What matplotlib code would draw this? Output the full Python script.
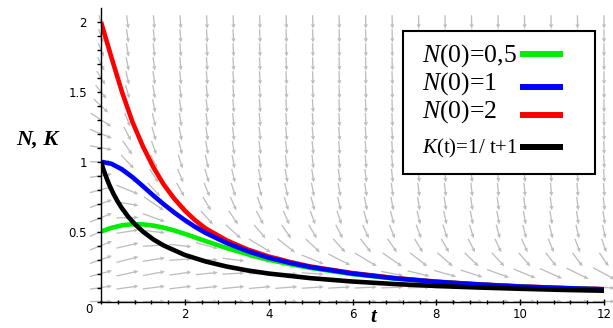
import numpy as np
import matplotlib
matplotlib.use("Agg")
import matplotlib.pyplot as plt
from matplotlib.patches import Rectangle
from matplotlib.lines import Line2D

plt.rcParams['mathtext.fontset'] = 'custom'
plt.rcParams['mathtext.it'] = 'Liberation Serif:italic'
plt.rcParams['mathtext.rm'] = 'Liberation Serif'

# ---- data ----
t_curves = [0, 0.25, 0.5, 0.75, 1.0, 1.25, 1.5, 1.75, 2.0, 2.25, 2.5, 3.0, 3.5, 4.0, 4.5, 5, 6, 7, 8, 9, 10, 11, 12]
n_red = [2.0, 1.745, 1.50, 1.285, 1.11, 0.96, 0.835, 0.735, 0.65, 0.58, 0.522, 0.437, 0.372, 0.322,
         0.283, 0.25, 0.203, 0.168, 0.142, 0.123, 0.108, 0.097, 0.088]
n_blue = [1.0, 0.985, 0.946, 0.89, 0.825, 0.758, 0.695, 0.636, 0.582, 0.533, 0.49, 0.418, 0.36, 0.313,
          0.277, 0.246, 0.200, 0.166, 0.141, 0.122, 0.107, 0.096, 0.087]
n_green = [0.5, 0.527, 0.545, 0.553, 0.552, 0.543, 0.528, 0.508, 0.484, 0.458, 0.432, 0.382, 0.338, 0.299,
           0.267, 0.240, 0.196, 0.164, 0.140, 0.121, 0.106, 0.095, 0.086]

t_black = [0, 0.05, 0.1, 0.15, 0.2, 0.3, 0.4, 0.5, 0.65, 0.8, 1.0, 1.25, 1.5, 2.0, 2.5, 3.0, 3.5, 4, 5, 6, 7, 8, 9, 10, 11, 12]
n_black = [1.0, 0.952, 0.909, 0.870, 0.833, 0.769, 0.714, 0.667, 0.606, 0.556, 0.5, 0.444, 0.4, 0.333,
           0.286, 0.25, 0.222, 0.2, 0.167, 0.143, 0.125, 0.111, 0.1, 0.091, 0.083, 0.077]

legend_labels = ["$N$(0)=0,5", "$N$(0)=1", "$N$(0)=2", "$K$(t)=1/ t+1"]
legend_colors = ["#00ee00", "#0000ff", "#ff0000", "#000000"]

x_ticks = [2, 4, 6, 8, 10, 12]
x_ticklabels = ["2", "4", "6", "8", "10", "12"]
y_ticks = [0.5, 1, 1.5, 2]
y_ticklabels = ["0.5", "1", "1.5", "2"]

growth_rate = 0.5  # model dN/dt = r N (1 - N/K), K = 1/(t+1)

# ---- figure ----
W, H = 613, 328
fig = plt.figure(figsize=(W / 100, H / 100), dpi=100)
ax_l, ax_r, ax_b, ax_t = 101, 604, 301.5, 8
ax = fig.add_axes([ax_l / W, (H - ax_b) / H, (ax_r - ax_l) / W, (ax_b - ax_t) / H])
xmax, ymax = 12, 2.1
ax.set_xlim(0, xmax)
ax.set_ylim(0, ymax)
px_t = (ax_r - ax_l) / xmax
px_n = (ax_b - ax_t) / ymax

# direction field
TT, NN = np.meshgrid(np.linspace(0, 12, 20), np.linspace(0, 2, 21))
slope = growth_rate * NN * (1 - NN * (1 + TT))
ux = np.ones_like(slope) * px_t
uy = slope * px_n
norm = np.hypot(ux, uy)
ux, uy = ux / norm, uy / norm
Lx, Ly = 22.0, 13.5
L = np.minimum(Lx / np.maximum(np.abs(ux), 1e-9), Ly / np.maximum(np.abs(uy), 1e-9))
U = ux * L / px_t
V = uy * L / px_n
q = ax.quiver(TT, NN, U, V, angles='xy', scale_units='xy', scale=1, pivot='middle',
              color='#bdbdbd', units='dots', width=1.3, headwidth=3.2, headlength=3.5,
              headaxislength=3.2, zorder=1)
q.set_clip_on(False)

lw = 3.3
ax.plot(t_curves, n_red, color=legend_colors[2], lw=lw, zorder=3, solid_capstyle='butt')
ax.plot(t_curves, n_green, color=legend_colors[0], lw=lw, zorder=3, solid_capstyle='butt')
ax.plot(t_curves, n_blue, color=legend_colors[1], lw=lw, zorder=3, solid_capstyle='butt')
ax.plot(t_black, n_black, color=legend_colors[3], lw=lw, zorder=3, solid_capstyle='butt')

# axes styling
for s in ['top', 'right']:
    ax.spines[s].set_visible(False)
for s in ['left', 'bottom']:
    ax.spines[s].set_linewidth(1.0)
    ax.spines[s].set_zorder(4)
ax.set_xticks(x_ticks)
ax.set_xticklabels(x_ticklabels)
ax.set_xticks(np.arange(0, 12.01, 0.4), minor=True)
ax.set_yticks(y_ticks)
ax.set_yticklabels(y_ticklabels)
ax.set_yticks(np.arange(0, 2.01, 0.1), minor=True)
ax.tick_params(axis='x', which='major', direction='inout', length=5, width=1, pad=2, labelsize=8.5)
ax.tick_params(axis='x', which='minor', direction='inout', length=3, width=1)
ax.tick_params(axis='y', which='both', direction='out', length=3, width=1, pad=7, labelsize=8.5)
ax.annotate("0", xy=(0, 0), xycoords='data', xytext=(-9, -6), textcoords='offset points',
            ha='center', va='center', fontsize=8.5)
ax.patch.set_alpha(0)

# axis labels
fig.text(37 / W, 1 - 140 / H, "N, K", fontfamily='Liberation Serif', fontstyle='italic',
         fontweight='bold', fontsize=16, ha='center', va='center')
fig.text(373 / W, 1 - 317 / H, "t", fontfamily='Liberation Serif', fontstyle='italic',
         fontweight='bold', fontsize=15, ha='center', va='center')

# legend box (drawn manually: text first, line sample after)
fig.patches.append(Rectangle((403 / W, 1 - 174 / H), (595 - 403) / W, (174 - 31) / H,
                             transform=fig.transFigure, facecolor='white', edgecolor='black',
                             lw=1.5, zorder=5))
rows_text = [56, 84, 112, 148]
rows_line = [54, 87, 115, 147]
sizes = [18.5, 18.5, 18.5, 15]
for lab, col, yt, yl, fs in zip(legend_labels, legend_colors, rows_text, rows_line, sizes):
    fig.text(422 / W, 1 - yt / H, lab, fontfamily='Liberation Serif', fontsize=fs,
             ha='left', va='center', zorder=6)
    fig.lines.append(Line2D([520 / W, 563 / W], [1 - yl / H, 1 - yl / H], transform=fig.transFigure,
                            color=col, lw=4.3, zorder=6, solid_capstyle='butt'))

fig.savefig("out.png", dpi=100)
